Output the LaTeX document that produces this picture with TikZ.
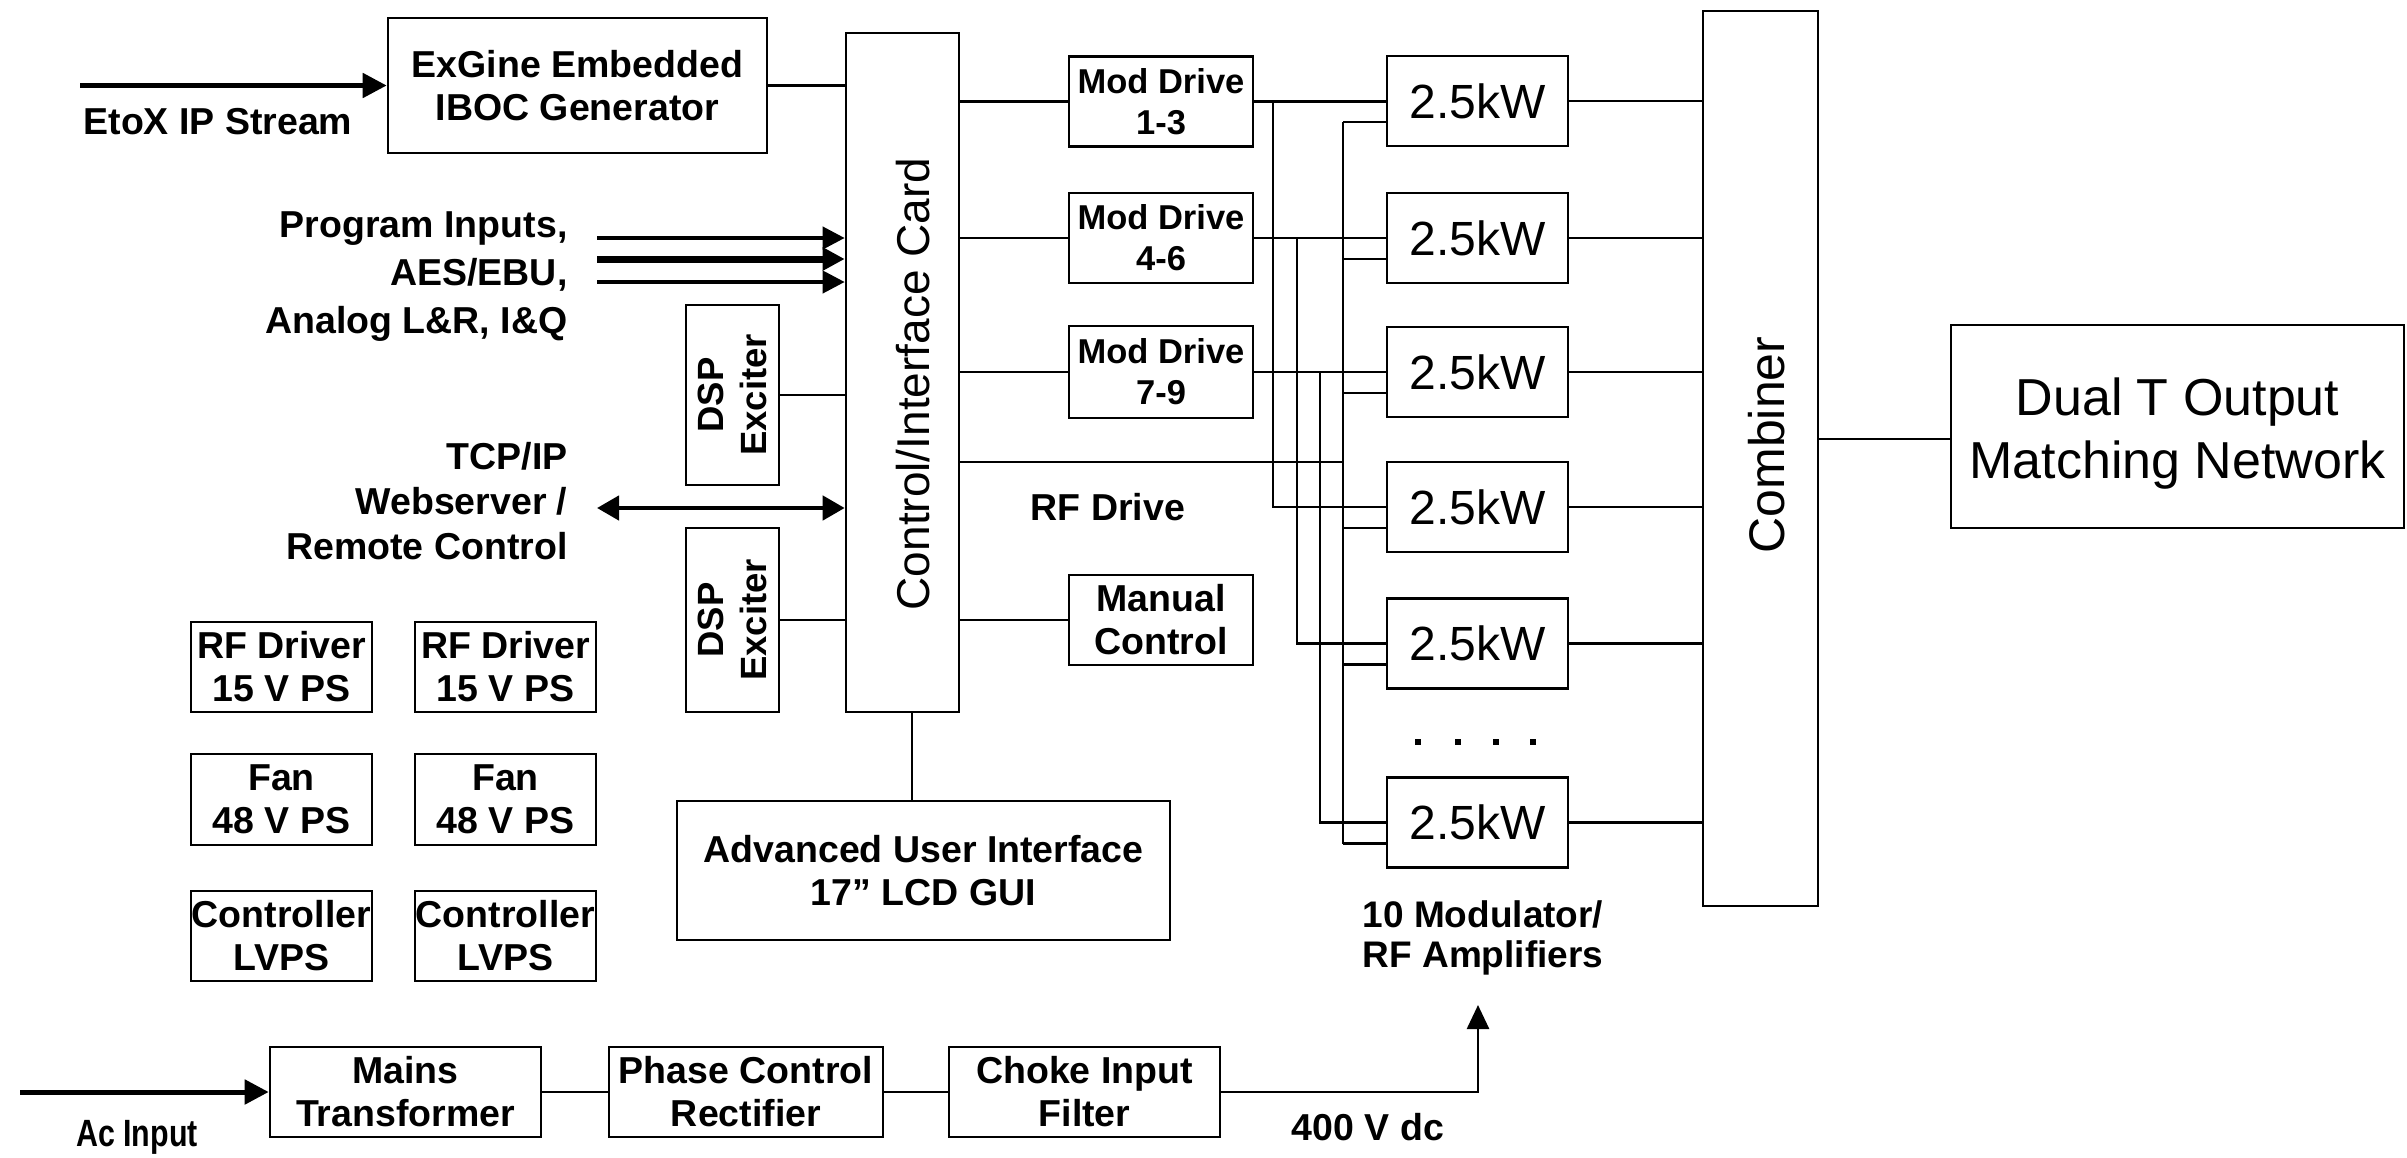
\documentclass[tikz,border=0pt]{standalone}
\usepackage{fontspec}
\setmainfont{Liberation Sans}
\newfontfamily\narrowbf[FakeStretch=0.8]{Liberation Sans Bold}
\usetikzlibrary{arrows.meta,calc}
\begin{document}
\begin{tikzpicture}[x=1pt,y=-1pt,
  box/.style={draw, line width=2.6pt, rectangle, inner sep=0pt, align=center},
  bl/.style={font=\fontsize{37.5}{43}\selectfont\bfseries, align=center},
  ml/.style={font=\fontsize{34.5}{41}\selectfont\bfseries, align=center},
  rg/.style={font=\fontsize{48}{52}\selectfont, align=center},
  conn/.style={line width=2.6pt},
  bigarrow/.style={line width=5pt, -{Triangle[length=24pt,width=24pt]}},
  inarrow/.style={line width=4pt, -{Triangle[length=22pt,width=22pt]}},
  dblarrow/.style={line width=4.5pt, {Triangle[length=22pt,width=24pt]}-{Triangle[length=22pt,width=24pt]}},
  dcarrow/.style={line width=2.6pt, -{Triangle[length=24pt,width=22pt]}}
]
\useasboundingbox (0,0) rectangle (2407,1157);

% ---------------- top-left ----------------
\node[box, bl, minimum width=379pt, minimum height=135pt] (exgine) at (577.5,85.5) {ExGine Embedded\\IBOC Generator};
\coordinate (etox) at (80,85.5);
\node[bl, anchor=west] (etoxlbl) at (80,122) {EtoX IP Stream};

% control card
\node[box, minimum width=113pt, minimum height=679pt] (card) at (902.5,372.5) {};
\node[font=\fontsize{46}{52}\selectfont, rotate=90] (cardtxt) at (913,384) {Control/Interface Card};

% program inputs
\node[align=right, anchor=east, font=\fontsize{37.5}{48}\selectfont\bfseries] (proglbl) at (571,277) {Program Inputs,\\AES/EBU,\\Analog L\&R, I\&Q};
\coordinate (pi1) at (597,238);
\coordinate (pi2) at (597,259);
\coordinate (pi3) at (597,282);

% DSP exciters
\node[box, minimum width=93pt, minimum height=180pt] (dsp1) at (732.5,395) {};
\node[align=center, rotate=90, font=\fontsize{36.5}{43}\selectfont\bfseries] (dsp1txt) at (dsp1.center) {DSP\\Exciter};
\node[box, minimum width=93pt, minimum height=184pt] (dsp2) at (732.5,620) {};
\node[align=center, rotate=90, font=\fontsize{36.5}{43}\selectfont\bfseries] (dsp2txt) at (dsp2.center) {DSP\\Exciter};

% TCP/IP
\node[align=right, anchor=east, font=\fontsize{37.5}{45}\selectfont\bfseries] (tcplbl) at (571,501) {TCP/IP\\Webserver /\\Remote Control};
\coordinate (tcp) at (597,508);

% power supplies
\node[box, bl, minimum width=181pt, minimum height=90pt] (ps1) at (281.5,667) {RF Driver\\15 V PS};
\node[box, bl, minimum width=181pt, minimum height=90pt] (ps2) at (505.5,667) {RF Driver\\15 V PS};
\node[box, bl, minimum width=181pt, minimum height=91pt] (ps3) at (281.5,799.5) {Fan\\48 V PS};
\node[box, bl, minimum width=181pt, minimum height=91pt] (ps4) at (505.5,799.5) {Fan\\48 V PS};
\node[box, bl, minimum width=181pt, minimum height=90pt] (ps5) at (281.5,936) {Controller\\LVPS};
\node[box, bl, minimum width=181pt, minimum height=90pt] (ps6) at (505.5,936) {Controller\\LVPS};

% advanced user interface
\node[box, bl, minimum width=493pt, minimum height=139pt] (aui) at (923.5,870.5) {Advanced User Interface\\17” LCD GUI};

% ---------------- mod drives ----------------
\node[box, ml, minimum width=184pt, minimum height=90pt] (mod1) at (1161,101.5) {Mod Drive\\1-3};
\node[box, ml, minimum width=184pt, minimum height=90pt] (mod2) at (1161,238) {Mod Drive\\4-6};
\node[box, ml, minimum width=184pt, minimum height=92pt] (mod3) at (1161,372) {Mod Drive\\7-9};
\node[box, bl, minimum width=184pt, minimum height=90pt] (manual) at (1161,620) {Manual\\Control};
\node[bl] (rfdrivelbl) at (1108,507) {RF Drive};

% ---------------- amplifiers ----------------
\foreach \n/\y in {1/101,2/238,3/372,4/507,5/643.5,6/822.5}{
  \node[box, rg, minimum width=181pt, minimum height=90pt] (amp\n) at (1477.5,\y) {2.5kW};
  \coordinate (s\n) at ([yshift=-21pt]amp\n.west);
}
\foreach \x in {1418,1458,1496,1533}{
  \fill (\x-3,739) rectangle (\x+3,745);
}
\node[font=\fontsize{37}{40}\selectfont\bfseries, align=center] (amplbl) at (1483,938) {10 Modulator/\\RF Amplifiers};

% combiner and output
\node[box, minimum width=115pt, minimum height=895pt] (comb) at (1760.5,458.5) {};
\node[font=\fontsize{50}{54}\selectfont, rotate=90] (combtxt) at (1767,445) {Combiner};
\node[box, font=\fontsize{52}{63}\selectfont, align=center, minimum width=453pt, minimum height=203pt, text depth=0pt] (dualt) at (2177.5,426.5) {};
\node[font=\fontsize{52}{63}\selectfont, align=center] (dualttxt) at (2177.5,434) {Dual T Output\\Matching Network};

% ---------------- bottom chain ----------------
\node[box, bl, minimum width=271pt, minimum height=90pt] (mains) at (405.5,1092) {Mains\\Transformer};
\node[box, bl, minimum width=274pt, minimum height=90pt] (phase) at (746,1092) {Phase Control\\Rectifier};
\node[box, bl, minimum width=271pt, minimum height=90pt] (choke) at (1084.5,1092) {Choke Input\\Filter};
\coordinate (acin) at (20,1092);
\coordinate (dctip) at (1478,1005);
\node[font=\fontsize{38}{43}\selectfont\narrowbf] (aclbl) at (137,1137) {Ac Input};
\node[bl] (dclbl) at (1368,1127) {400 V dc};

% ---------------- connectors ----------------
\draw[bigarrow] (etox) -- (exgine.west);
\draw[conn] (exgine.east) -- (exgine.east -| card.west);
\draw[inarrow] (pi1) -- (pi1 -| card.west);
\draw[inarrow, line width=7pt] (pi2) -- (pi2 -| card.west);
\draw[inarrow] (pi3) -- (pi3 -| card.west);
\draw[conn] (dsp1.east) -- (dsp1.east -| card.west);
\draw[conn] (dsp2.east) -- (dsp2.east -| card.west);
\draw[dblarrow] (tcp) -- (tcp -| card.west);
\draw[conn] ([xshift=9.5pt]card.south) -- ([xshift=9.5pt]card.south |- aui.north);

\draw[conn] (mod1.west -| card.east) -- (mod1.west);
\draw[conn] (mod2.west -| card.east) -- (mod2.west);
\draw[conn] (mod3.west -| card.east) -- (mod3.west);
\draw[conn] (manual.west -| card.east) -- (manual.west);

% mod drive outputs and buses
\coordinate (b1) at (1273,101.5);
\coordinate (b2) at (1297,238);
\coordinate (b3) at (1320,372);
\coordinate (rfbus) at (1343,462);
\draw[conn] (mod1.east) -- (mod1.east -| amp1.west);
\draw[conn] (mod2.east) -- (mod2.east -| amp2.west);
\draw[conn] (mod3.east) -- (mod3.east -| amp3.west);
\draw[conn] (b1) |- (amp4.west);
\draw[conn] (b2) |- (amp5.west);
\draw[conn] (b3) |- (amp6.west);
\draw[conn] (card.east |- rfbus) -- (rfbus);
\draw[conn] (rfbus |- s1) -- (rfbus |- s6);
\foreach \n in {1,...,6}{
  \draw[conn] (rfbus |- s\n) -- (s\n);
  \draw[conn] (amp\n.east) -- (amp\n.east -| comb.west);
}
\draw[conn] (comb.east |- 0,439) -- (dualt.west |- 0,439);

% bottom chain
\draw[bigarrow] (acin) -- (mains.west);
\draw[conn] (mains.east) -- (phase.west);
\draw[conn] (phase.east) -- (choke.west);
\draw[dcarrow] (choke.east) -| (dctip);
\end{tikzpicture}
\end{document}
